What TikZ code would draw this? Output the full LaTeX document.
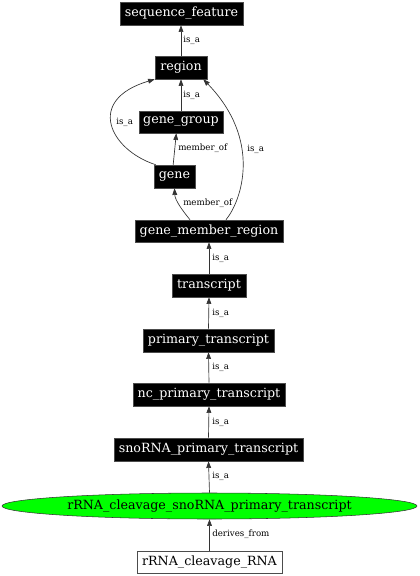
\documentclass[tikz,border=0pt]{standalone}
\usepackage{fontspec}
\setmainfont{DejaVu Serif}
\usetikzlibrary{shapes.geometric,arrows.meta}
\begin{document}
\begin{tikzpicture}[x=0.75pt,y=-0.75pt,
  blk/.style={draw=black!70,fill=black,text=white,inner sep=1pt,minimum height=17.25pt,font=\fontsize{9.5}{11}\selectfont},
  wht/.style={draw=black!70,fill=white,text=black,inner sep=1pt,minimum height=16.5pt,font=\fontsize{9.5}{11}\selectfont},
  elln/.style={ellipse,draw=black!80,fill=green,text=black,inner sep=0pt,font=\fontsize{9.5}{11}\selectfont},
  edge/.style={draw=black!80,line width=0.5pt,-{Triangle[length=5pt,width=3.6pt]}},
  lbl/.style={anchor=west,inner sep=0pt,font=\fontsize{6.5}{7.5}\selectfont}]
\useasboundingbox (0,0) rectangle (419,576);
\node[blk,minimum width=92.25pt] (sf) at (181.5,13.5) {sequence\_feature};
\node[blk,minimum width=39pt] (region) at (181,67.5) {region};
\node[blk,minimum width=63pt,minimum height=16.5pt] (gg) at (181,122) {gene\_group};
\node[blk,minimum width=30.75pt] (gene) at (174.5,176.5) {gene};
\node[blk,minimum width=111pt,minimum height=16.5pt] (gmr) at (209,231) {gene\_member\_region};
\node[blk,minimum width=55.5pt] (tr) at (209,285.5) {transcript};
\node[blk,minimum width=98.25pt] (pt) at (208.5,340.5) {primary\_transcript};
\node[blk,minimum width=114pt] (ncpt) at (209,394.5) {nc\_primary\_transcript};
\node[blk,minimum width=141.75pt] (snopt) at (208.5,449.5) {snoRNA\_primary\_transcript};
\node[elln,minimum width=311.25pt,minimum height=19.5pt] (ell) at (209.5,506) {rRNA\_cleavage\_snoRNA\_primary\_transcript};
\node[wht,minimum width=108.75pt] (rca) at (209.5,562) {rRNA\_cleavage\_RNA};

\draw[edge] (region.north) -- (region.north |- sf.south);
\draw[edge] (gg.north) -- (region.south);
\draw[edge] ([xshift=1.5pt]gene.north west) .. controls (110,150) and (85,100) .. (region.south west);
\draw[edge] ([xshift=-1pt]gene.north) -- ([xshift=-3.5pt]gg.south);
\draw[edge] ([xshift=12.75pt]gmr.north) .. controls (242,200) and (262,140) .. ([xshift=-3pt]region.south east);
\draw[edge] ([xshift=-14.25pt]gmr.north) .. controls (182,210) and (175,200) .. (gene.south);
\draw[edge] (tr.north) -- (gmr.south);
\draw[edge] (pt.north) -- (tr.south);
\draw[edge] (ncpt.north) -- (pt.south);
\draw[edge] (snopt.north) -- (ncpt.south);
\draw[edge] (ell.north) -- (snopt.south);
\draw[edge] (rca.north) -- (ell.south);

\node[lbl] (l1) at (183,40) {is\_a};
\node[lbl] (l2) at (183,95) {is\_a};
\node[lbl] (l3) at (116,122) {is\_a};
\node[lbl] (l4) at (178,148) {member\_of};
\node[lbl] (l5) at (247,149) {is\_a};
\node[lbl] (l6) at (183,203) {member\_of};
\node[lbl] (l7) at (212,258) {is\_a};
\node[lbl] (l8) at (212,313) {is\_a};
\node[lbl] (l9) at (212,367) {is\_a};
\node[lbl] (l10) at (212,422) {is\_a};
\node[lbl] (l11) at (212,476) {is\_a};
\node[lbl] (l12) at (212,534) {derives\_from};
\end{tikzpicture}
\end{document}
